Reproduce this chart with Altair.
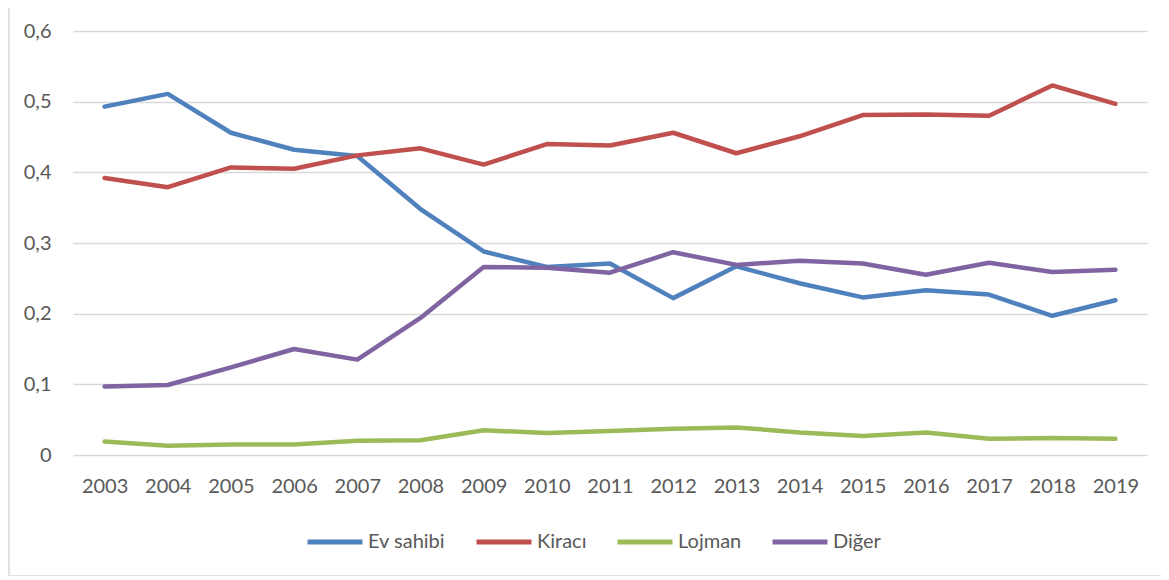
import altair as alt
import pandas as pd

years = [str(y) for y in range(2003, 2020)]
series = ["Ev sahibi", "Kiracı", "Lojman", "Diğer"]
colors = ["#4F81BD", "#C0504D", "#9BBB59", "#8064A2"]

ev_sahibi = [0.493, 0.511, 0.456, 0.432, 0.423, 0.348, 0.288, 0.266, 0.271, 0.222,
             0.267, 0.243, 0.223, 0.233, 0.227, 0.197, 0.219]
kiraci = [0.392, 0.379, 0.407, 0.405, 0.424, 0.434, 0.411, 0.440, 0.438, 0.456,
          0.427, 0.451, 0.481, 0.482, 0.480, 0.523, 0.497]
lojman = [0.019, 0.013, 0.015, 0.015, 0.020, 0.021, 0.035, 0.031, 0.034, 0.037,
          0.039, 0.032, 0.027, 0.032, 0.023, 0.024, 0.023]
diger = [0.097, 0.099, 0.124, 0.150, 0.135, 0.194, 0.266, 0.265, 0.258, 0.287,
         0.269, 0.275, 0.271, 0.255, 0.272, 0.259, 0.262]

rows = []
for name, vals in zip(series, [ev_sahibi, kiraci, lojman, diger]):
    for y, v in zip(years, vals):
        rows.append({"Yıl": y, "Seri": name, "Değer": v})
df = pd.DataFrame(rows)

FONT = "Lato"
TXT = "#595959"
FS = 20

lines = alt.Chart(df).mark_line(strokeWidth=4.5, strokeCap="round", strokeJoin="round").encode(
    x=alt.X("Yıl:O", title=None, sort=years,
            scale=alt.Scale(type="point", padding=0.5),
            axis=alt.Axis(labelAngle=0, ticks=False, domain=False, grid=False,
                          labelPadding=21, labelFontSize=FS, labelColor=TXT, labelFont=FONT)),
    y=alt.Y("Değer:Q", title=None, scale=alt.Scale(domain=[0, 0.6], nice=False),
            axis=alt.Axis(values=[0, 0.1, 0.2, 0.3, 0.4, 0.5, 0.6], ticks=False, domain=False,
                          gridColor="#D9D9D9", gridWidth=1.3, labelPadding=22,
                          labelFontSize=FS, labelColor=TXT, labelFont=FONT,
                          labelExpr="datum.value == 0 ? '0' : replace(format(datum.value, '.1f'), '.', ',')")),
    color=alt.Color("Seri:N", title=None,
                    scale=alt.Scale(domain=series, range=colors),
                    legend=alt.Legend(orient="none", direction="horizontal", legendX=232, legendY=481,
                                      symbolType="stroke", symbolSize=3025, symbolStrokeWidth=5,
                                      labelFontSize=FS, labelColor=TXT, labelFont=FONT,
                                      labelOffset=3, columnPadding=20)),
    detail="Seri:N",
)

frame_data = pd.DataFrame({"k": [0]})
frame_left = alt.Chart(frame_data).mark_rule(color="#D9D9D9", strokeWidth=1.5).encode(
    x=alt.value(-64), y=alt.value(-31), y2=alt.value(545))
frame_bottom = alt.Chart(frame_data).mark_rule(color="#D9D9D9", strokeWidth=1.5).encode(
    x=alt.value(-64), x2=alt.value(1088), y=alt.value(545))

chart = alt.layer(lines, frame_left, frame_bottom).properties(
    width=1074, height=424,
    autosize=alt.AutoSizeParams(type="none"),
    padding={"left": 65, "top": 23, "right": 14, "bottom": 121},
).configure_view(stroke=None)

chart.save("out.html", embed_options={"renderer": "svg", "actions": False})
